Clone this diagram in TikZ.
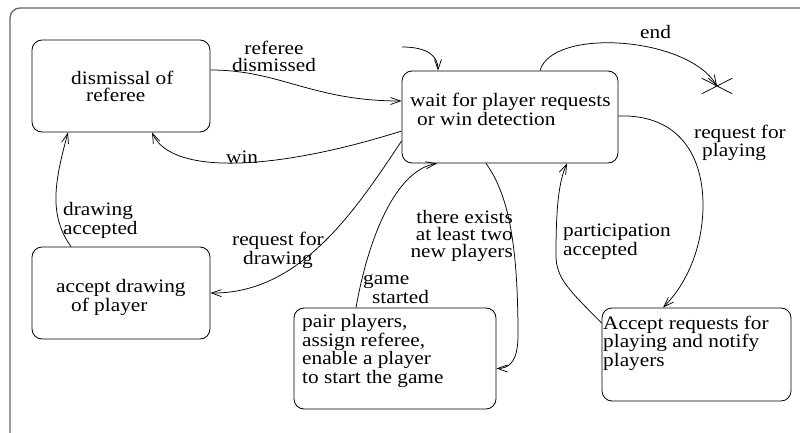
\documentclass[tikz,border=0pt]{standalone}
\usepackage{fontspec}
\setmainfont{Liberation Serif}[FakeStretch=1.12]
\usetikzlibrary{arrows.meta,shapes.misc}

\begin{document}
\begin{tikzpicture}[x=1pt,y=-1pt,
  state/.style={draw, rounded corners=10pt, line width=0.8pt, inner sep=0pt},
  txt/.style={inner sep=0pt, font=\fontsize{19}{17}\selectfont},
  edge/.style={line width=0.75pt, -{Straight Barb[length=10pt,width=7pt]}},
]
\useasboundingbox (0,0) rectangle (800,433);

% outer frame
\draw[line width=1.3pt, color=black!60, rounded corners=10pt] (10,8) rectangle (840,470);

% states
\node[state, minimum width=178pt, minimum height=92pt] (dis) at (121,86) {};
\node[state, minimum width=216pt, minimum height=92pt] (wait) at (510,117) {};
\node[state, minimum width=178pt, minimum height=92pt] (acc) at (121,293) {};
\node[state, minimum width=202pt, minimum height=101pt] (pair) at (395,358.5) {};
\node[state, minimum width=189pt, minimum height=93pt] (req) at (696.5,354.5) {};
\node[draw, cross out, line width=0.75pt, minimum width=30pt, minimum height=15pt, inner sep=0pt] (fin) at (717,86) {};
\coordinate (init) at (402,47);

% state texts (anchored at the baseline of their last line)
\node[txt, anchor=base west, align=left] (tdis) at (71,102) {dismissal of\\\hspace*{15pt}referee};
\node[txt, anchor=base west, align=left] (twait) at (410,125) {wait for player requests\\\hspace*{7pt}or win detection};
\node[txt, anchor=base west, align=left] (tacc) at (56,311) {accept drawing\\\hspace*{15pt}of player};
\node[txt, anchor=base west, align=left] (tpair) at (302,383) {pair players,\\assign referee,\\enable a player\\to start the game};
\node[txt, anchor=base west, align=left] (treq) at (603,366) {Accept requests for\\playing and notify\\players};

% transition labels
\node[txt, anchor=base, align=center] (l1) at (274,72) {referee\\dismissed};
\node[txt, anchor=base west] (l2) at (226,163) {win};
\node[txt, anchor=base west, align=left] (l3) at (63,234) {drawing\\accepted};
\node[txt, anchor=base, align=center] (l4) at (278,264) {request for\\drawing};
\node[txt, anchor=base west, align=left] (l5) at (363,303) {game\\\hspace*{9pt}started};
\node[txt, anchor=base east, align=right] (l6) at (513,257) {there exists\\at least two\\new players};
\node[txt, anchor=base west, align=left] (l7) at (563,255) {participation\\accepted};
\node[txt, anchor=base west, align=left] (l8) at (694,157) {request for\\\hspace*{8pt}playing};
\node[txt, anchor=base west] (l9) at (640,39) {end};

% waypoints of the longer transitions
\coordinate (ex1) at (518,335);
\coordinate (ex2) at (556,255);
\coordinate (ex3) at (703,205);

% transitions
\draw[edge] ([yshift=16pt]dis.east) .. controls +(70,0) and +(-90,0) .. ([yshift=16pt]wait.west);
\draw[edge] ([yshift=-14pt]wait.west) .. controls +(-120,38) and +(20,45) .. ([xshift=31pt]dis.south);
\draw[edge] ([xshift=-50pt]acc.north) .. controls +(-23,-32) and +(-13,48) .. ([xshift=-53pt]dis.south);
\draw[edge] ([yshift=-24pt]wait.west) .. controls +(-46,69) and +(90,1) .. (acc.east);
\draw[edge] ([xshift=-39pt]pair.north) .. controls +(12,-68) and +(-42,7) .. ([xshift=-73pt]wait.south);
\draw[edge] ([xshift=-24pt]wait.south) .. controls +(20,28) and +(0,-100) .. (ex1)
  .. controls +(0,25) and +(14,0) .. ([yshift=-10pt]pair.east);
\draw[edge] ([yshift=31.5pt]req.west) .. controls +(-35,-35) and +(0,22) .. (ex2)
  .. controls +(0,-50) and +(-8,18) .. ([xshift=57pt]wait.south);
\draw[edge] ([yshift=1pt]wait.east) .. controls +(60,-2) and +(0,-50) .. (ex3)
  .. controls +(0,40) and +(25,-25) .. ([xshift=-33.5pt]req.north);
\draw[edge] ([xshift=30pt]wait.north) .. controls +(12,-43) and +(-30,-50) .. (fin.center);
\draw[edge] (init) .. controls +(25,0) and +(0,-15) .. ([xshift=-72pt]wait.north);
\end{tikzpicture}
\end{document}
